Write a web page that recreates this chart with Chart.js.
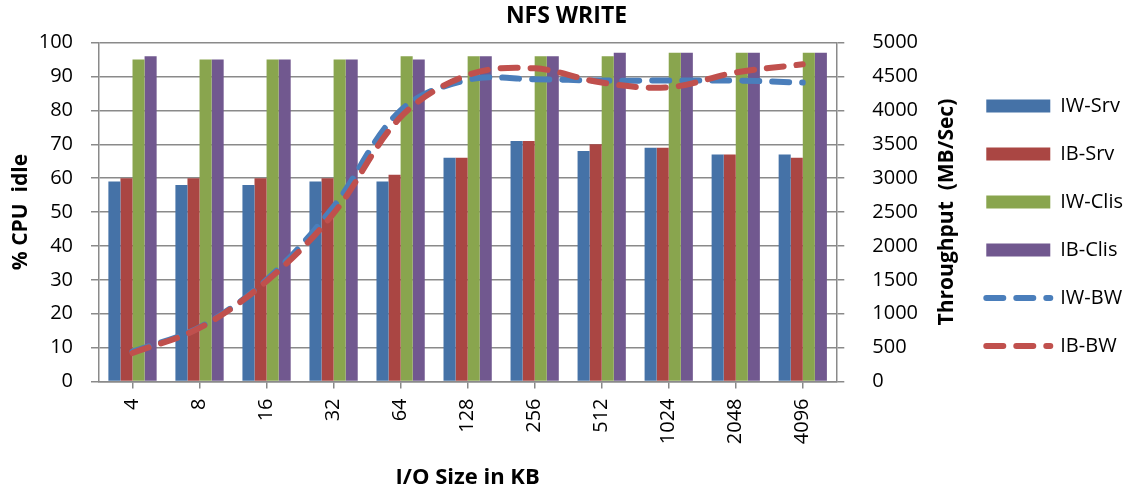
<!DOCTYPE html>
<html>
<head>
<meta charset="utf-8">
<script src="https://cdn.jsdelivr.net/npm/chart.js@4/dist/chart.umd.min.js"></script>
<style>
  html, body { margin: 0; padding: 0; background: #fff; }
  #wrap { width: 1143px; height: 495px; }
</style>
</head>
<body>
<div id="wrap"><canvas id="myChart"></canvas></div>
<script>
// I/O sizes (KB)
const sizes = ['4', '8', '16', '32', '64', '128', '256', '512', '1024', '2048', '4096'];

// % CPU idle (left axis)
const iwSrv = [59, 58, 58, 59, 59, 66, 71, 68, 69, 67, 67];
const ibSrv = [60, 60, 60, 60, 61, 66, 71, 70, 69, 67, 66];
const iwClis = [95, 95, 95, 95, 96, 96, 96, 96, 97, 97, 97];
const ibClis = [96, 95, 95, 95, 95, 96, 96, 97, 97, 97, 97];

// throughput MB/Sec (right axis)
const iwBw = [440, 800, 1500, 2580, 4000, 4450, 4460, 4440, 4440, 4440, 4410];
const ibBw = [420, 790, 1480, 2480, 3900, 4520, 4620, 4410, 4340, 4560, 4680];

const FONT = '"Open Sans", "Noto Sans", sans-serif';
const gridColor = '#8a8a8a';
const dash = [17, 13];

// Excel-style right axis title (reads bottom to top)
const rightTitle = {
    id: 'rightTitle',
    afterDraw(chart) {
        const { ctx, chartArea } = chart;
        const s = chart.scales.y1;
        ctx.save();
        ctx.translate(s.right - 11, (chartArea.top + chartArea.bottom) / 2);
        ctx.rotate(-Math.PI / 2);
        ctx.font = 'bold 21px ' + FONT;
        ctx.fillStyle = '#000';
        ctx.textAlign = 'center';
        ctx.textBaseline = 'middle';
        ctx.fillText('Throughput  (MB/Sec)', 0, 0);
        ctx.restore();
    }
};

const ctx = document.getElementById('myChart').getContext('2d');
const myChart = new Chart(ctx, {
    type: 'bar',
    data: {
        labels: sizes,
        datasets: [
            { label: 'IW-Srv', data: iwSrv, backgroundColor: '#4572A7', yAxisID: 'y', order: 2 },
            { label: 'IB-Srv', data: ibSrv, backgroundColor: '#AA4643', yAxisID: 'y', order: 2 },
            { label: 'IW-Clis', data: iwClis, backgroundColor: '#89A54E', yAxisID: 'y', order: 2 },
            { label: 'IB-Clis', data: ibClis, backgroundColor: '#71588F', yAxisID: 'y', order: 2 },
            {
                type: 'line', label: 'IW-BW', data: iwBw, yAxisID: 'y1', order: 1,
                borderColor: '#4A7EBB', borderWidth: 6, borderDash: dash,
                borderCapStyle: 'round', pointRadius: 0, tension: 0.35, fill: false
            },
            {
                type: 'line', label: 'IB-BW', data: ibBw, yAxisID: 'y1', order: 0,
                borderColor: '#C0504D', borderWidth: 6, borderDash: dash,
                borderCapStyle: 'round', pointRadius: 0, tension: 0.35, fill: false
            }
        ]
    },
    options: {
        responsive: true,
        maintainAspectRatio: false,
        animation: false,
        layout: { padding: { left: 0, right: 10, top: 0, bottom: 0 } },
        datasets: {
            bar: { barPercentage: 1, categoryPercentage: 0.72 }
        },
        plugins: {
            title: {
                display: true,
                text: 'NFS WRITE',
                color: '#000',
                font: { family: FONT, size: 23, weight: 'bold' },
                padding: { top: 3, bottom: 12 }
            },
            tooltip: { enabled: false },
            legend: {
                position: 'right',
                align: 'start',
                title: {
                    display: true,
                    text: ' ',
                    font: { size: 12 },
                    padding: { top: 0, bottom: 53.6 }
                },
                labels: {
                    usePointStyle: true,
                    pointStyleWidth: 64,
                    boxHeight: 13,
                    padding: 28,
                    color: '#000',
                    font: { family: FONT, size: 20 },
                    generateLabels: chart => chart.data.datasets.map((ds, i) => {
                        const isLine = ds.type === 'line';
                        return {
                            text: ds.label,
                            datasetIndex: i,
                            fillStyle: isLine ? 'rgba(0,0,0,0)' : ds.backgroundColor,
                            strokeStyle: isLine ? ds.borderColor : 'rgba(0,0,0,0)',
                            lineWidth: isLine ? 6 : 0,
                            lineDash: isLine ? ds.borderDash : [],
                            lineCap: 'round',
                            pointStyle: isLine ? 'line' : 'rect',
                            fontColor: '#000',
                            hidden: false
                        };
                    })
                }
            }
        },
        scales: {
            x: {
                grid: { drawOnChartArea: false, offset: false, color: gridColor, lineWidth: 1.5, tickLength: 7 },
                border: { color: gridColor, width: 1.5 },
                ticks: {
                    color: '#000', font: { family: FONT, size: 20 },
                    minRotation: 90, maxRotation: 90, autoSkip: false, padding: 10
                },
                title: {
                    display: true, text: 'I/O Size in KB', color: '#000',
                    font: { family: FONT, size: 22, weight: 'bold' },
                    padding: { top: 4, bottom: 4 }
                },
                afterFit: s => { s.height = 113.5; }
            },
            y: {
                position: 'left',
                min: 0, max: 100,
                grid: { color: gridColor, lineWidth: 1.5, tickLength: 8 },
                border: { color: gridColor, width: 1.5 },
                ticks: { stepSize: 10, color: '#000', font: { family: FONT, size: 20 }, padding: 18 },
                title: {
                    display: true, text: '% CPU  idle', color: '#000',
                    font: { family: FONT, size: 21, weight: 'bold' },
                    padding: { top: 8, bottom: 4 }
                },
                afterFit: s => { s.width = 99; }
            },
            y1: {
                position: 'right',
                min: 0, max: 5000,
                grid: { drawOnChartArea: false, color: gridColor, lineWidth: 1.5, tickLength: 8 },
                border: { color: gridColor, width: 1.5 },
                ticks: {
                    stepSize: 500, color: '#000', font: { family: FONT, size: 20 }, padding: 28,
                    callback: v => String(v)
                },
                afterFit: s => { s.width = 122; }
            }
        }
    },
    plugins: [rightTitle]
});
</script>
</body>
</html>
